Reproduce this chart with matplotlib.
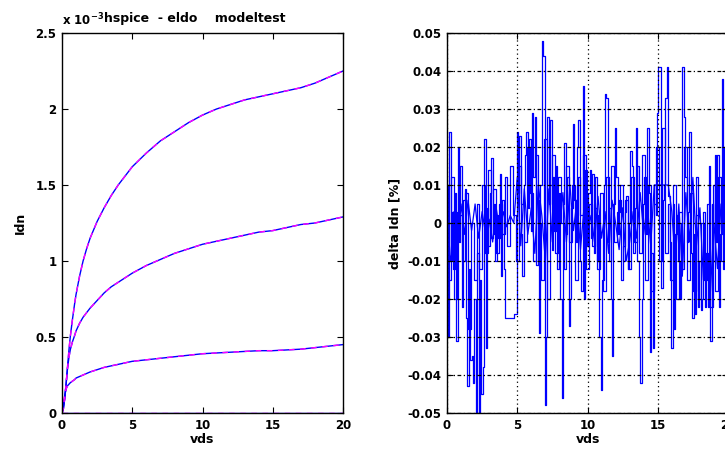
import matplotlib
matplotlib.use("Agg")
import matplotlib.pyplot as plt
import numpy as np

# drain current curves, Idn in units of 1e-3 A
vds_curve = [0, 0.1, 0.2, 0.3, 0.4, 0.5, 0.6, 0.75, 0.9, 1, 1.25, 1.5, 1.75, 2, 2.5, 3, 3.5,
             4, 4.5, 5, 6, 7, 8, 9, 10, 11, 12, 13, 14, 15, 16, 17, 18, 19, 20]
idn_high = [0, 0.03, 0.1, 0.2, 0.31, 0.42, 0.51, 0.62, 0.72, 0.78, 0.9, 1.0, 1.08, 1.15, 1.26,
            1.35, 1.43, 1.5, 1.56, 1.62, 1.71, 1.79, 1.85, 1.91, 1.96, 2.0, 2.03, 2.06, 2.08,
            2.10, 2.12, 2.14, 2.17, 2.21, 2.25]
idn_mid = [0, 0.03, 0.1, 0.2, 0.3, 0.37, 0.42, 0.47, 0.51, 0.54, 0.59, 0.63, 0.66, 0.69, 0.74,
           0.79, 0.83, 0.86, 0.89, 0.92, 0.97, 1.01, 1.05, 1.08, 1.11, 1.13, 1.15, 1.17, 1.19,
           1.20, 1.22, 1.24, 1.25, 1.27, 1.29]
idn_low = [0, 0.05, 0.12, 0.16, 0.18, 0.19, 0.20, 0.21, 0.22, 0.23, 0.24, 0.25, 0.26, 0.27,
           0.285, 0.30, 0.31, 0.32, 0.33, 0.34, 0.35, 0.36, 0.37, 0.38, 0.39, 0.395, 0.40,
           0.405, 0.41, 0.41, 0.415, 0.42, 0.43, 0.44, 0.45]
idn_off = [0] * len(vds_curve)

# relative difference hspice vs eldo, in units of 1e-3 %
vds_a = [round(0.1 * i, 1) for i in range(201)]
delta_a = [
    5, -30, 24, -10, 3, -12, 8, -31, 20, -5,
    2, -22, 6, 9, -25, -43, -12, -36, -35, -42,
    -20, -50, -8, -50, -15, -45, -38, 22, -33, 4,
    -6, 8, 17, -3, 5, -10, 2, -4, 13, -14,
    6, -12, -25, -25, -25, -25, -25, -25, -24, -24,
    24, 8, 23, -3, -14, 10, 18, 24, 4, 22,
    -2, 29, 12, 28, -11, 6, -29, 10, 48, 44,
    -48, -30, 28, 5, 27, -7, 12, -2, 15, -12,
    8, -20, -46, 5, 21, -3, 12, -27, -20, 4,
    26, 6, -5, 20, 27, -10, -18, 36, -20, 14,
    -6, 8, 14, -4, 13, -8, 4, -10, 2, -30,
    -44, -15, 10, 34, 33, -5, 4, -20, -35, 5,
    25, 12, -3, 6, -15, -15, -6, 3, 7, -12,
    0, 19, 15, -8, 4, 25, -10, -30, -42, -20,
    5, 12, -3, 25, 8, -34, -8, -33, 10, 2,
    29, 41, 41, -17, 6, 10, 33, 41, 7, -5,
    -33, 5, -28, -3, 2, -10, -20, 0, 41, 28,
    12, -5, 3, 24, -8, -25, -3, -24, 2, -22,
    -10, -23, -20, 3, -22, -8, -22, 15, -31, 5,
    -10, 18, -5, 18, -22, -3, 38, -12, 5, -20,
    0,
]
vds_b = [0.25 * i for i in range(81)]
delta_b = [
    -5, -10, 3, -8, 5, -3, 6, -2, 5, -4,
    3, -3, 1, -5, 4, -2, 3, -1, 2, 0,
    12, -6, 9, -3, 4, -8, 10, 2, -10, 9,
    -5, 6, -3, 8, -5, 10, -2, 6, -7, 4,
    -3, 2, -5, 7, -4, 3, -8, 6, 0, -7,
    4, -10, -5, 3, -4, 8, -3, 5, -6, 10,
    10, 10, 10, 10, 3, -10, 5, -14, 8, -5,
    12, -6, 4, -15, -8, -18, 0, -12, 5, -2,
    3,
]
vds_c = [round(0.2 * i, 1) for i in range(101)]
delta_c = [
    10, -15, 12, -20, 3, 15, -10, 8, -28, 0,
    -15, 5, -12, 10, -8, 14, -4, 9, -8, 5,
    -3, 12, -6, 15, 2, -10, 15, 5, -5, 20,
    8, -10, 18, 0, -15, 22, -20, 10, 18, -8,
    12, 0, -12, 15, -5, 10, -15, 12, 2, 18,
    -12, 5, -6, 12, -12, 8, -18, 12, -10, 15,
    -5, 3, 10, -10, 6, -12, 12, -5, 15, -8,
    18, -15, 10, -18, 5, 20, -10, 25, -8, 5,
    -15, 10, -20, 3, -12, 20, -15, 8, -18, 12,
    -20, 0, -15, 5, -22, 10, -18, 12, -10, 20,
    -5,
]

plt.rcParams['font.family'] = ['DejaVu Sans']
plt.rcParams['font.size'] = 8
plt.rcParams['font.weight'] = 'bold'

fig = plt.figure(figsize=(7.25, 4.54), dpi=100)
ax1 = fig.add_axes([62 / 725, 41 / 454, 281 / 725, 380 / 454])
ax2 = fig.add_axes([447 / 725, 41 / 454, 281 / 725, 380 / 454])

for ys in (idn_high, idn_mid, idn_low, idn_off):
    ax1.plot(vds_curve, ys, color='#0000ff', lw=1.0)
    ax1.plot(vds_curve, ys, color='#ff00ff', lw=1.0, dashes=(4, 4))

ax1.set_xlim(0, 20)
ax1.set_ylim(0, 2.5)
ax1.set_xticks([0, 5, 10, 15, 20])
ax1.set_yticks([0, 0.5, 1, 1.5, 2, 2.5])
ax1.set_yticklabels(['0', '0.5', '1', '1.5', '2', '2.5'])
ax1.set_xlabel('vds', labelpad=1, fontweight='bold', fontsize=9)
ax1.set_ylabel('Idn', labelpad=6, fontweight='bold', fontsize=9)
ax1.text(0.0, 1.012, 'x 10$^{-3}$', transform=ax1.transAxes, ha='left', va='bottom',
         fontsize=8.5)
ax1.text(0.15, 1.022, 'hspice  - eldo    modeltest', transform=ax1.transAxes,
         ha='left', va='bottom', fontsize=9)

scale = 0.001
ax2.plot(vds_a, np.array(delta_a) * scale, color='#0000ff', lw=0.9, drawstyle='steps-mid')
ax2.plot(vds_b, np.array(delta_b) * scale, color='#0000ff', lw=0.9)
ax2.plot(vds_c, np.array(delta_c) * scale, color='#0000ff', lw=0.9, drawstyle='steps-mid')
ax2.set_xlim(0, 20)
ax2.set_ylim(-0.05, 0.05)
ax2.set_xticks([0, 5, 10, 15, 20])
ax2.set_yticks(np.round(np.arange(-0.05, 0.051, 0.01), 2))
ax2.yaxis.set_major_formatter(matplotlib.ticker.FormatStrFormatter('%g'))
ax2.xaxis.grid(True, color='black', lw=0.9, linestyle=(0, (1, 2.5)))
ax2.yaxis.grid(True, color='black', lw=0.9, linestyle=(0, (3, 2, 1, 2)))
ax2.set_axisbelow(False)
ax2.set_xlabel('vds', labelpad=1, fontweight='bold', fontsize=9)
ax2.set_ylabel('delta Idn [%]', labelpad=4, fontweight='bold', fontsize=9)

for ax in (ax1, ax2):
    ax.tick_params(direction='in', top=True, right=True, length=4, width=0.8,
                   labelsize=8.5, pad=4)
    for sp in ax.spines.values():
        sp.set_linewidth(1.0)

fig.savefig('out.png', dpi=100)
